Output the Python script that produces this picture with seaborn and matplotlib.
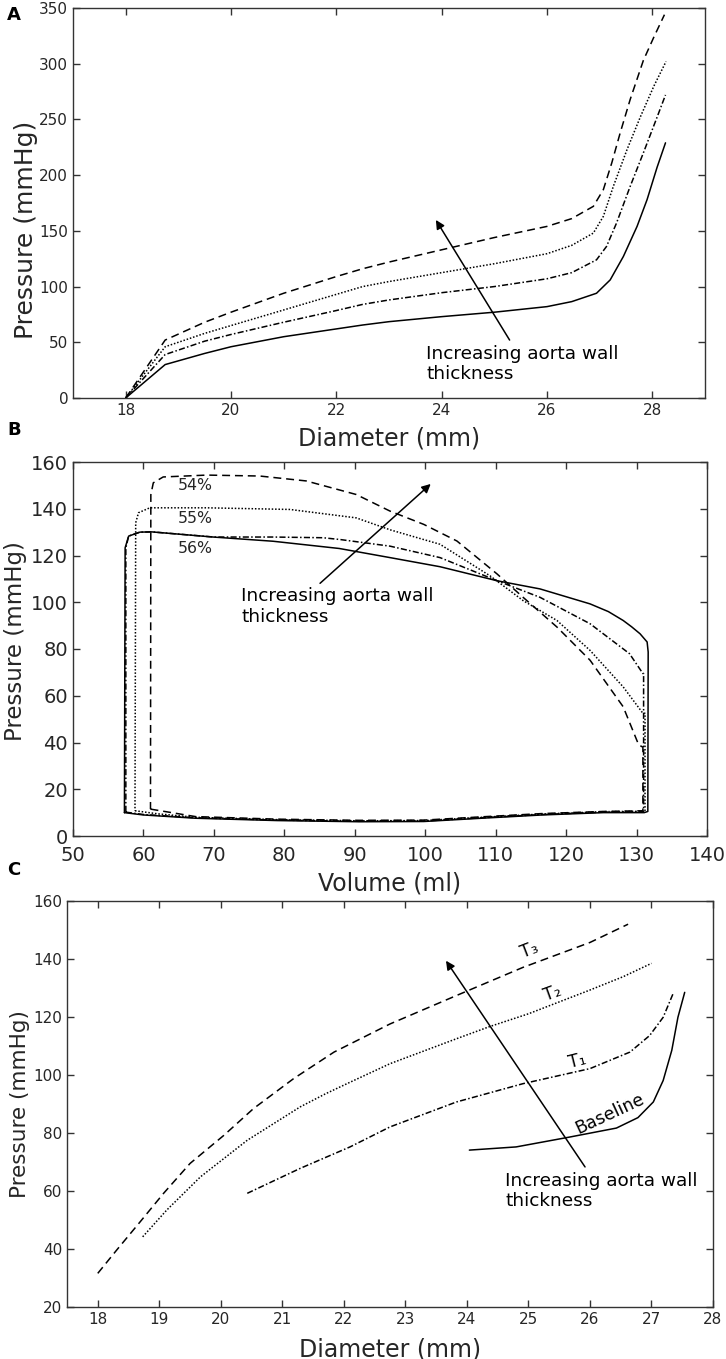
import numpy as np
import pandas as pd
import matplotlib
matplotlib.use("Agg")
import matplotlib.pyplot as plt
import seaborn as sns

# ------------------------------------------------------------------------
# Data
# ------------------------------------------------------------------------
# (A) pressure-diameter, four wall thicknesses
a_base_diam = [18, 18.75, 19.5, 20, 21, 22, 22.5, 23, 24, 25, 26,
               26.47, 26.94, 27.2, 27.45, 27.71, 27.9, 28.09, 28.25]
a_base = [0, 30, 40, 46, 55, 62, 65.5, 68.5, 73, 77, 82,
          86.5, 94, 106, 127, 154, 178, 207, 229]
a_t1_diam = [18, 18.75, 19.5, 20, 21, 22, 22.5, 23, 24, 25, 26,
             26.47, 26.94, 27.13, 27.32, 27.58, 27.83, 28.09, 28.25]
a_t1 = [0, 39, 51, 57, 68, 78.5, 84, 88, 94.5, 100, 107,
        112.5, 124, 136, 157, 190, 220, 252, 272]
a_t2_diam = [18, 18.75, 19.5, 20, 21, 22, 22.5, 23, 24, 25, 26,
             26.47, 26.88, 27.07, 27.26, 27.52, 27.77, 28.03, 28.26]
a_t2 = [0, 46, 58, 65, 79, 93, 100, 104.5, 112.5, 120.5, 129.5,
        137, 148, 163, 190, 223, 252, 280, 302]
a_t3_diam = [18, 18.75, 19.5, 20, 21, 22, 22.5, 23, 24, 25, 26,
             26.47, 26.88, 27.07, 27.23, 27.39, 27.58, 27.83, 28.03, 28.23]
a_t3 = [0, 52, 68, 77, 94, 109, 116, 122, 133, 144, 154,
        161, 172, 187, 211, 238, 268, 303, 324, 344]

# (B) PV loops
b_base_vol = [57.3, 60, 67.4, 79, 90.6, 99.8, 108, 116.6, 125.3, 131.1, 131.6,
              131.65, 131.5, 130.5, 129.3, 128.1, 126.0, 123.4, 116.3, 110.2,
              102.1, 95.0, 87.8, 78.4, 69.9, 61.2, 59.5, 57.9, 57.4, 57.3]
b_base_p = [10, 9, 7.6, 6.6, 6.1, 6.2, 7.6, 9.0, 10, 10, 10.5,
            78.7, 83, 86.5, 89.5, 92.2, 96, 99.3, 105.7, 109.2,
            115.2, 119.1, 123, 126.1, 127.9, 130.1, 130, 128.3, 123.3, 10]
b_t1_vol = [57.5, 60, 67.4, 79, 90.6, 99.8, 108, 116.6, 125.3, 131.0,
            131.0, 130.9, 129.0, 123.4, 116.3, 110.2, 102.1, 95.0, 88.0,
            85.5, 78.4, 70.0, 61.2, 59.5, 57.9, 57.5, 57.5]
b_t1_p = [10.2, 9.2, 7.8, 6.8, 6.3, 6.4, 7.8, 9.2, 10.2, 10.4,
          69.5, 69.5, 78, 90.8, 102.1, 109.2, 119.1, 124, 126.8,
          127.6, 127.9, 127.9, 130.1, 130, 128.3, 123.3, 10.2]
b_t2_vol = [58.8, 62, 67.4, 79, 90.6, 99.8, 108, 116.6, 125.3, 131.2,
            131.2, 130.9, 128.1, 123.4, 118.7, 113.9, 109.2, 102.1, 95.0,
            90.2, 80.8, 69.0, 60.9, 59.3, 58.9, 58.8]
b_t2_p = [10.8, 9.5, 8.0, 7.0, 6.5, 6.6, 8.0, 9.4, 10.4, 10.6,
          52.5, 52.5, 63.8, 79.4, 92.2, 100.7, 111.3, 124.8, 131,
          136.1, 139.7, 140.4, 140.4, 138.3, 134, 10.8]
b_t3_vol = [61.0, 64, 67.4, 79, 90.6, 99.8, 108, 116.6, 125.3, 130.9,
            130.9, 130.3, 128.1, 123.4, 118.7, 113.9, 110.2, 104.5, 99.8,
            95.0, 90.2, 83.1, 76.5, 69.0, 62.8, 61.4, 61.05, 61.0]
b_t3_p = [11.5, 10, 8.3, 7.2, 6.7, 6.8, 8.2, 9.6, 10.5, 10.8,
          38, 39, 55.3, 75.2, 89.4, 102.1, 112.1, 126.2, 133.3,
          139, 146.1, 151.9, 154, 154.4, 153.6, 151.1, 146, 11.5]
b_labels = ["54%", "55%", "56%"]
b_label_vol = [64.9, 64.9, 64.9]
b_label_p = [148, 133.7, 120.9]

# (C) pressure-diameter over the cardiac cycle
c_base_diam = [24.04, 24.8, 25.67, 26.43, 26.78, 27.03, 27.19, 27.33, 27.43, 27.54]
c_base_p = [74.1, 75.2, 78.6, 81.7, 85.3, 90.7, 98.1, 108.5, 119.9, 128.5]
c_t1_diam = [20.43, 21.29, 22.1, 22.75, 23.83, 24.91, 26.0, 26.65, 26.97, 27.19, 27.35]
c_t1_p = [59.2, 67.8, 75.2, 82.1, 90.7, 97, 102.2, 107.9, 113.6, 119.9, 128]
c_t2_diam = [18.73, 19.12, 19.67, 20.43, 21.29, 21.7, 22.1, 22.75, 23.83, 24.37,
             25.0, 26.0, 26.54, 27.0]
c_t2_p = [44.2, 53.4, 64.9, 77.5, 89, 93.5, 97.5, 103.9, 112.5, 116.7,
          121.1, 129.3, 133.9, 138.5]
c_t3_diam = [18.0, 18.31, 18.69, 19.07, 19.5, 20.05, 20.53, 21.18, 21.84, 22.75,
             23.83, 24.91, 26.0, 26.62]
c_t3_p = [31.6, 39.7, 49.4, 59.2, 69.5, 79.2, 88.4, 98.7, 107.9, 117.6,
          127.4, 137.1, 145.7, 152]
c_labels = ["Baseline", "T\u2081", "T\u2082", "T\u2083"]
c_label_diam = [26.32, 25.8, 25.4, 25.01]
c_label_p = [86.7, 104.8, 128.2, 143.1]
c_label_rot = [25, 14, 20, 21]

note = "Increasing aorta wall\nthickness"

# ------------------------------------------------------------------------
# Style
# ------------------------------------------------------------------------
sns.set_style("ticks")
plt.rcParams["font.family"] = ["DejaVu Sans"]
TXT = "#262626"

dashes = {
    "base": "",
    "t1": (4, 1.5, 1, 1.5),
    "t2": (1, 1.2),
    "t3": (5.2, 3.2),
}


def long_frame(xs, ys, names):
    parts = []
    for x, y, n in zip(xs, ys, names):
        parts.append(pd.DataFrame({"x": x, "y": y, "curve": n}))
    return pd.concat(parts, ignore_index=True)


def style_axes(ax, xlim, ylim, xticks, yticks, tick_size, xpad=3.5):
    ax.set_xlim(*xlim)
    ax.set_ylim(*ylim)
    ax.set_xticks(xticks)
    ax.set_yticks(yticks)
    ax.tick_params(direction="in", top=True, right=True, length=5,
                   width=1.0, color="#333333", labelsize=tick_size,
                   labelcolor=TXT)
    ax.tick_params(axis="x", pad=xpad)
    for s in ax.spines.values():
        s.set_color("#333333")
        s.set_linewidth(1.0)


def draw(ax, df):
    sns.lineplot(data=df, x="x", y="y", style="curve", dashes=dashes,
                 color="black", linewidth=1.1, sort=False, estimator=None,
                 legend=False, ax=ax)


fig = plt.figure(figsize=(7.26, 13.59), dpi=100)
W, H = 726, 1359
axA = fig.add_axes([73 / W, 1 - 398 / H, 632 / W, 390 / H])
axB = fig.add_axes([73 / W, 1 - 836 / H, 634 / W, 374 / H])
axC = fig.add_axes([67 / W, 1 - 1307 / H, 646 / W, 406 / H])

names = ["base", "t1", "t2", "t3"]
arrow = dict(arrowstyle="-|>", color="black", lw=1.1, shrinkA=0, shrinkB=0,
             mutation_scale=13)

# (A)
dfA = long_frame([a_base_diam, a_t1_diam, a_t2_diam, a_t3_diam],
                 [a_base, a_t1, a_t2, a_t3], names)
draw(axA, dfA)
style_axes(axA, (17, 29), (0, 350), range(18, 29, 2), range(0, 351, 50), 11)
axA.set_xlabel("Diameter (mm)", fontsize=17, color=TXT)
axA.set_ylabel("Pressure (mmHg)", fontsize=18, color=TXT)
axA.xaxis.set_label_coords(0.5, -0.074)
axA.yaxis.set_label_coords(-0.055, 0.43)
axA.annotate("", xy=(23.89, 159.8), xytext=(25.29, 52), arrowprops=arrow)
axA.text(23.71, 48, note, fontsize=13.3, color="black", ha="left", va="top")

# (B)
dfB = long_frame([b_base_vol, b_t1_vol, b_t2_vol, b_t3_vol],
                 [b_base_p, b_t1_p, b_t2_p, b_t3_p], names)
draw(axB, dfB)
style_axes(axB, (50, 140), (0, 160), range(50, 141, 10), range(0, 161, 20), 14,
           xpad=7)
axB.set_xlabel("Volume (ml)", fontsize=17, color=TXT)
axB.set_ylabel("Pressure (mmHg)", fontsize=16.5, color=TXT)
axB.xaxis.set_label_coords(0.5, -0.096)
axB.yaxis.set_label_coords(-0.073, 0.52)
axB.annotate("", xy=(100.78, 150.6), xytext=(85.07, 108.1), arrowprops=arrow)
axB.text(73.85, 106.6, note, fontsize=13.3, color="black", ha="left", va="top")
for lab, v, p in zip(b_labels, b_label_vol, b_label_p):
    axB.text(v, p, lab, fontsize=11.3, color=TXT, ha="left", va="baseline")

# (C)
dfC = long_frame([c_base_diam, c_t1_diam, c_t2_diam, c_t3_diam],
                 [c_base_p, c_t1_p, c_t2_p, c_t3_p], names)
draw(axC, dfC)
style_axes(axC, (17.5, 28), (20, 160), range(18, 29), range(20, 161, 20), 11)
axC.set_xlabel("Diameter (mm)", fontsize=17, color=TXT)
axC.set_ylabel("Pressure (mmHg)", fontsize=15.5, color=TXT)
axC.xaxis.set_label_coords(0.5, -0.074)
axC.yaxis.set_label_coords(-0.057, 0.5)
axC.annotate("", xy=(23.66, 139.4), xytext=(25.92, 68.3), arrowprops=arrow)
axC.text(24.62, 66.7, note, fontsize=13.3, color="black", ha="left", va="top")
for lab, d, p, r in zip(c_labels, c_label_diam, c_label_p, c_label_rot):
    axC.text(d, p, lab, fontsize=12.5, color="black", ha="center",
             va="center", rotation=r, rotation_mode="anchor")

# panel letters
for lab, ytop in zip(["A", "B", "C"], [6, 421, 861]):
    fig.text(7 / W, 1 - ytop / H, lab, fontsize=13, fontweight="bold",
             ha="left", va="top", color="black")

fig.savefig("out.png", dpi=100)
plt.close(fig)
